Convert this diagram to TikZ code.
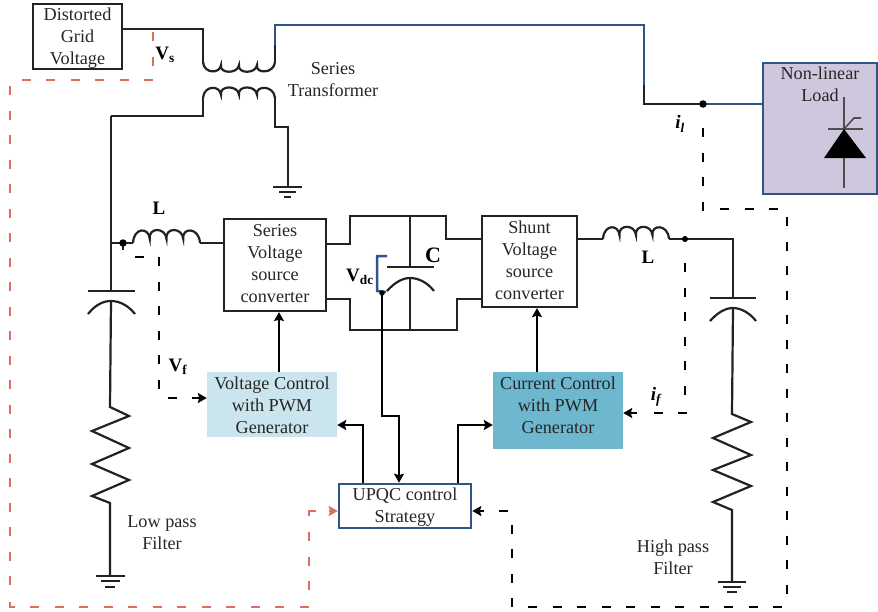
\documentclass[tikz,border=0pt]{standalone}
\usepackage{fontspec}
\setmainfont{Liberation Serif}
\usetikzlibrary{arrows.meta}
\definecolor{wire}{HTML}{222222}
\definecolor{navy}{HTML}{2F5488}
\definecolor{pinkdash}{HTML}{DC6E66}
\definecolor{loadfill}{HTML}{CFC7DD}
\definecolor{lightblue}{HTML}{CBE5EE}
\definecolor{tealblue}{HTML}{6DB8CF}
\definecolor{txt}{HTML}{262626}
\tikzset{
  wireline/.style={draw=wire,line width=2.2pt,line join=miter},
  navyline/.style={draw=navy,line width=2.5pt},
  ctrl/.style={draw=black,line width=2.9pt,-{Stealth[length=9pt,width=10pt,inset=1.5pt]}},
  pinkline/.style={draw=pinkdash,line width=2.7pt,dash pattern=on 9pt off 15.5pt},
  blackdash/.style={draw=black,line width=2.7pt,dash pattern=on 9pt off 15.5pt},
  pinktip/.style={draw=pinkdash,line width=2.7pt,-{Stealth[length=9pt,width=10pt,inset=1.5pt]}},
  blacktip/.style={draw=black,line width=2.7pt,-{Stealth[length=9pt,width=10pt,inset=1.5pt]}},
  label/.style={inner sep=0pt,text=txt,font=\fontsize{18.2}{22}\selectfont,align=center},
  sym/.style={inner sep=0pt,text=black,font=\fontsize{19}{22}\selectfont\bfseries},
  symit/.style={sym,font=\fontsize{19}{22}\selectfont\bfseries\itshape},
  boxbase/.style={rectangle,inner sep=0pt},
  conv/.style={boxbase,draw=wire,line width=2.2pt},
  dotmark/.style={circle,fill=black,inner sep=0pt,minimum size=7.5pt},
  coil/.pic={\draw[wireline] (0,0) .. controls (0.05,-1) and (.95,-1) .. (1,-.25)
      .. controls (.9,-1) and (1.95,-1) .. (2,-.25)
      .. controls (1.9,-1) and (2.95,-1) .. (3,-.25)
      .. controls (2.9,-1) and (3.95,-1) .. (4,0);},
}
\begin{document}
\begin{tikzpicture}[x=1pt,y=-1pt]
\useasboundingbox (0,0) rectangle (878,611);
% boxes
\node[conv,minimum width=89pt,minimum height=65pt] (grid) at (77.5,36.5) {};
\node[label] (gridt) at (77.5,38) {Distorted\\Grid\\Voltage};
\node[boxbase,draw=navy,fill=loadfill,line width=2.6pt,minimum width=114pt,minimum height=131pt] (load) at (820,128.5) {};
\node[conv,minimum width=102pt,minimum height=92pt] (ser) at (275,265) {};
\node[label] (sert) at (275,264) {Series\\Voltage\\source\\converter};
\node[conv,minimum width=95pt,minimum height=91pt] (shu) at (529.5,261.5) {};
\node[label] (shut) at (529.5,260) {Shunt\\Voltage\\source\\converter};
\node[boxbase,fill=lightblue,minimum width=130pt,minimum height=65pt] (vc) at (272,404.5) {};
\node[label] (vct) at (272,405) {Voltage Control\\with PWM\\Generator};
\node[boxbase,fill=tealblue,minimum width=130pt,minimum height=77pt] (cc) at (558,410.5) {};
\node[label] (cct) at (558,405) {Current Control\\with PWM\\Generator};
\node[boxbase,draw=navy,line width=2.6pt,minimum width=132pt,minimum height=44pt] (upqc) at (405,506) {};
\node[label] (upqct) at (405,507) {UPQC control\\Strategy};
% coordinates
\coordinate (pa) at (203,62);
\coordinate (pb) at (275,62);
\coordinate (sa) at (203,98);
\coordinate (sb) at (275,98);
\coordinate (g1) at (288,187);
\coordinate (lt) at (111,116);
\coordinate (j1) at (123,243);
\coordinate (cl1) at (133,243);
\coordinate (cl2) at (200,243);
\coordinate (j2) at (703,104);
\coordinate (cr1) at (603,239);
\coordinate (cr2) at (669,239);
\coordinate (j3) at (685,239);
\coordinate (j4) at (382,293);
\coordinate (g2) at (110,576);
\coordinate (g3) at (732,582);
% transformer and source
\draw[wireline] (grid.east |- 0,29) -- (203,29) -- (pa);
\pic[xscale=18,yscale=-12] at (pa) {coil};
\pic[xscale=18,yscale=13] at (sa) {coil};
\draw[wireline] (pb) -- (275,45);
\draw[navyline] (275,45) -- (275,25) -- (644,25) -- (644,85);
\draw[wireline] (644,85) -- (644,104) -- (j2);
\draw[navyline] (j2) -- (load.west |- j2);
\draw[wireline] (sa) -- (203,116) -- (lt);
\draw[wireline] (sb) -- (275,127) -- (288,127) -- (g1);
\node[dotmark] (d2) at (j2) {};
% ground series
\draw[wireline] (273,187) -- (302,187) (279,192) -- (296,192) (284,197) -- (291,197);
% low pass filter
\draw[wireline] (lt) -- (111,291);
\draw[wireline] (88,291) -- (135,291);
\draw[wireline] (88,314) .. controls (96,304) and (104,301) .. (111,301) .. controls (118,301) and (127,304) .. (135,314);
\draw[wireline] (111,301) -- (110,407) -- (129,416) -- (92,431) -- (129,448) -- (92,464) -- (129,480) -- (92,496) -- (110,503) -- (g2);
\draw[wireline] (96,576) -- (125,576) (101,581) -- (120,581) (105,587) -- (115,587);
% left coil
\draw[wireline] (111,243) -- (cl1);
\draw[wireline] (j1) -- (123,250);
\node[dotmark] (d1) at (j1) {};
\pic[xscale=16.75,yscale=16] at (cl1) {coil};
\draw[wireline] (cl2) -- (ser.west |- cl2);
% dc link
\draw[wireline] (ser.east |- 0,244) -- (350,244) -- (350,216) -- (446,216) -- (446,239) -- (shu.west |- 0,239);
\draw[wireline] (ser.east |- 0,299) -- (350,299) -- (350,330) -- (457,330) -- (457,299) -- (shu.west |- 0,299);
\draw[wireline] (410,216) -- (410,267);
\draw[wireline] (387,267) -- (434,267);
\draw[wireline] (387,291) .. controls (395,282) and (403,278) .. (410,278) .. controls (418,278) and (427,282) .. (434,291);
\draw[wireline] (410,278) -- (410,330);
\draw[navyline] (387,256) -- (377,256) -- (377,291) -- (386,292);
\node[dotmark,minimum size=5.5pt] (d4) at (j4) {};
\draw[ctrl] (j4) -- (382,416) -- (399,416) -- (upqc.north -| 399,0);
% right branch
\draw[wireline] (shu.east |- cr1) -- (cr1);
\pic[xscale=16.5,yscale=15] at (cr1) {coil};
\draw[wireline] (cr2) -- (733,239) -- (733,298);
\draw[wireline] (710,298) -- (756,298);
\draw[wireline] (710,321) .. controls (718,312) and (726,308) .. (733,308) .. controls (740,308) and (749,312) .. (756,321);
\draw[wireline] (733,308) -- (732,414) -- (751,422) -- (713,438) -- (751,455) -- (713,470) -- (751,486) -- (713,502) -- (732,510) -- (g3);
\draw[wireline] (718,582) -- (746,582) (723,587) -- (741,587) (727,592) -- (737,592);
\node[dotmark,minimum size=6pt] (d3) at (j3) {};
% control arrows
\draw[ctrl] (vc.north -| 279,0) -- (ser.south -| 279,0);
\draw[ctrl] (cc.north -| 537,0) -- (shu.south -| 537,0);
\draw[ctrl] (upqc.north -| 363,0) -- (363,425) -- (vc.east |- 0,425);
\draw[ctrl] (upqc.north -| 458,0) -- (458,425) -- (cc.west |- 0,425);
% pink dashed feedback, Vs to UPQC
\draw[pinkline] (153,32) -- (153,68);
\draw[pinkline] (153,80) -- (21,80);
\draw[pinkline] (10,86) -- (10,590);
\draw[pinkline,dash pattern=on 12pt off 0pt] (10,602) -- (10,607) -- (15,607);
\draw[pinkline] (30,607) -- (311,607);
\draw[pinkline] (309,590) -- (309,530);
\draw[pinkline,dash pattern=on 12pt off 0pt] (309,516) -- (309,511) -- (316,511);
\draw[pinktip] (329,511) -- (upqc.west |- 0,511);
% black dashed feedback, il to UPQC
\draw[blackdash] (703,128) -- (703,212);
\draw[blackdash] (720,209) -- (780,209);
\draw[blackdash] (787,217) -- (787,598);
\draw[blackdash] (782,607) -- (525,607);
\draw[blackdash] (512,607) -- (512,523);
\draw[blackdash] (508,511) -- (499,511);
\draw[blacktip] (484,511) -- (upqc.east |- 0,511);
% Vf
\draw[blackdash] (135,257) -- (144,257);
\draw[blackdash] (159,257) -- (159,392);
\draw[blackdash] (168,398) -- (177,398);
\draw[blacktip] (192,398) -- (vc.west |- 0,398);
% if
\draw[blackdash] (685,263) -- (685,397);
\draw[blackdash] (687,413) -- (653,413);
\draw[blacktip] (637,413) -- (cc.east |- 0,413);
% thyristor
\draw[draw=wire!80,line width=1.6pt] (844,97) -- (844,188);
\draw[draw=wire!80,line width=1.6pt] (828,129) -- (863,129);
\draw[draw=wire!80,line width=1.6pt] (844,129) -- (854,118) -- (861,118);
\fill[black] (844,129) -- (866,158) -- (824,158) -- cycle;
% labels
\node[label] (t1) at (333,80) {Series\\Transformer};
\node[label] (t2) at (820,84) {Non-linear\\Load};
\node[label] (t3) at (162,533) {Low pass\\Filter};
\node[label] (t4) at (673,557) {High pass\\Filter};
\node[sym] (l1) at (159,208) {L};
\node[sym] (l2) at (648,257) {L};
\node[sym,font=\fontsize{22}{22}\selectfont\bfseries] (l3) at (433,255) {C};
\node[sym] (l4) at (165,55) {V\textsubscript{s}};
\node[sym] (l5) at (360,277) {V\textsubscript{dc}};
\node[sym] (l6) at (178,367) {V\textsubscript{f}};
\node[symit] (l7) at (680,124) {i\textsubscript{l}};
\node[symit] (l8) at (656,397) {i\textsubscript{f}};
\end{tikzpicture}
\end{document}
